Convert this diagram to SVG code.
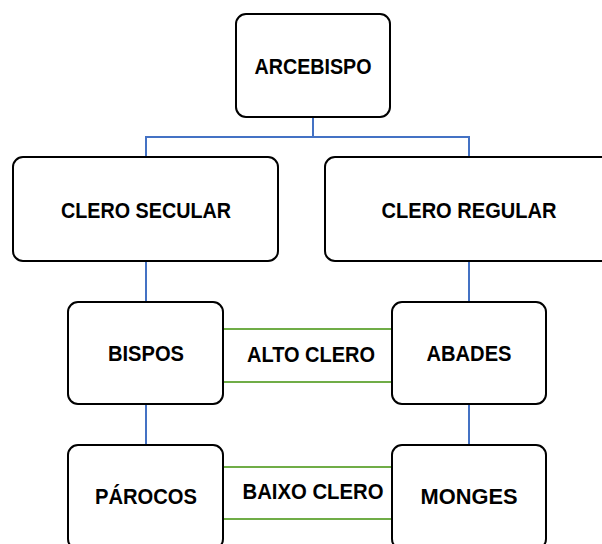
<svg xmlns="http://www.w3.org/2000/svg" width="602" height="544" viewBox="0 0 602 544">
<style>
.box{fill:#fff;stroke:#000;stroke-width:2}
.t{font-family:"Liberation Sans",Arial,sans-serif;font-weight:bold;font-size:22px;fill:#000;text-anchor:middle}
.blue{stroke:#4472C4;stroke-width:2;fill:none}
.green{stroke:#70AD47;stroke-width:2;fill:none}
</style>
<rect width="602" height="544" fill="#fff"/>
<g id="connectors">
<path class="blue" d="M313 117V137M146 137H469M146 136V157M469 136V157"/>
<path class="blue" d="M146 261V302M469 261V302M146 404V445M469 404V445"/>
<path class="green" d="M223 329H392M223 382H392M223 467H392M223 519H392"/>
</g>
<g id="arcebispo"><rect class="box" x="236" y="14" width="154" height="103" rx="10"/><text class="t" x="313" y="74" textLength="117" lengthAdjust="spacingAndGlyphs">ARCEBISPO</text></g>
<g id="clero-secular"><rect class="box" x="13" y="157" width="265" height="104" rx="10"/><text class="t" x="146" y="218" textLength="170" lengthAdjust="spacingAndGlyphs">CLERO SECULAR</text></g>
<g id="clero-regular"><rect class="box" x="325" y="157" width="290" height="104" rx="10"/><text class="t" x="469" y="218" textLength="175" lengthAdjust="spacingAndGlyphs">CLERO REGULAR</text></g>
<g id="bispos"><rect class="box" x="68" y="302" width="155" height="102" rx="10"/><text class="t" x="146" y="361" textLength="76" lengthAdjust="spacingAndGlyphs">BISPOS</text></g>
<g id="abades"><rect class="box" x="392" y="302" width="154" height="102" rx="10"/><text class="t" x="469" y="361" textLength="85" lengthAdjust="spacingAndGlyphs">ABADES</text></g>
<g id="alto-clero"><text class="t" x="311" y="362" textLength="128" lengthAdjust="spacingAndGlyphs">ALTO CLERO</text></g>
<g id="parocos"><rect class="box" x="68" y="445" width="155" height="104" rx="10"/><text class="t" x="146" y="504" textLength="102" lengthAdjust="spacingAndGlyphs">PÁROCOS</text></g>
<g id="monges"><rect class="box" x="392" y="445" width="154" height="104" rx="10"/><text class="t" x="469" y="504" textLength="97" lengthAdjust="spacingAndGlyphs">MONGES</text></g>
<g id="baixo-clero"><text class="t" x="313" y="499" textLength="141" lengthAdjust="spacingAndGlyphs">BAIXO CLERO</text></g>
</svg>
